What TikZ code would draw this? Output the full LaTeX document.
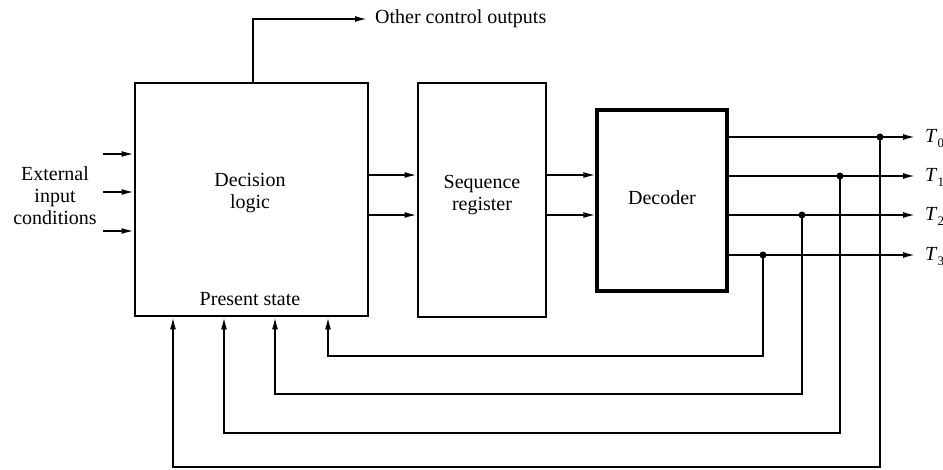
\documentclass[tikz,border=0pt]{standalone}
\usepackage{fontspec}
\setmainfont{Liberation Serif}
\usetikzlibrary{arrows.meta}
\begin{document}
\begin{tikzpicture}[x=1pt,y=-1pt,
  box/.style={draw,line width=2.8pt,inner sep=0pt},
  wire/.style={line width=1.6pt},
  arr/.style={wire,-{Latex[length=12pt,width=6pt]}},
  txt/.style={font=\fontsize{20}{22}\selectfont,align=center,inner sep=0pt},
  tlab/.style={font=\fontsize{20}{22}\selectfont,inner sep=0pt,anchor=base west},
  jdot/.style={circle,fill,inner sep=0pt,minimum size=7pt}]
\useasboundingbox (0,0) rectangle (943,470);
% boxes
\node[box,minimum width=233pt,minimum height=233pt] (dl) at (251.5,199.5) {};
\node[box,minimum width=128pt,minimum height=234pt] (sr) at (482,200) {};
\node[box,line width=3.2pt,minimum width=130pt,minimum height=181pt] (dec) at (662,200.5) {};
% texts
\node[txt] (dltxt) at (250,193) {Decision\\logic};
\node[txt] (srtxt) at (482,195) {Sequence\\register};
\node[txt] (dectxt) at (662,198) {Decoder};
\node[txt] (ps) at (250,299) {Present state};
\node[txt] (ext) at (55,196) {External\\input\\conditions};
\node[txt,anchor=west,inner xsep=8pt] (oct) at (367,19) {Other control outputs};
% external inputs
\coordinate (in1) at (103,154);
\coordinate (in2) at (103,192);
\coordinate (in3) at (103,231);
\foreach \i in {1,2,3} \draw[arr] (in\i) -- (in\i -| dl.west);
% other control outputs
\coordinate (oc) at (253,19);
\draw[arr] (oc |- dl.north) -- (oc) -- (oct.west);
% decision -> sequence register
\coordinate (a1) at (0,175);
\coordinate (a2) at (0,215);
\draw[arr] (dl.east |- a1) -- (sr.west |- a1);
\draw[arr] (dl.east |- a2) -- (sr.west |- a2);
\draw[arr] (sr.east |- a1) -- (dec.west |- a1);
\draw[arr] (sr.east |- a2) -- (dec.west |- a2);
% outputs
\coordinate (t0) at (915,137);
\coordinate (t1) at (915,176);
\coordinate (t2) at (915,215);
\coordinate (t3) at (915,255);
\foreach \i in {0,1,2,3} {
  \draw[arr] (dec.east |- t\i) -- (t\i);
  \node[tlab] (lab\i) at ([xshift=10pt,yshift=-6pt]t\i) {\textit{T}\raisebox{-5pt}{\fontsize{13}{13}\selectfont\i}};
}
% junction dots
\node[jdot] (d0) at (880,137) {};
\node[jdot] (d1) at (840,176) {};
\node[jdot] (d2) at (802,215) {};
\node[jdot] (d3) at (763,255) {};
% feedback
\coordinate (f3) at (328,356);
\coordinate (f2) at (275,394);
\coordinate (f1) at (224,433);
\coordinate (f0) at (173,467);
\foreach \i in {0,1,2,3} \draw[arr] (d\i.center) |- (f\i) -- (f\i |- dl.south);
\end{tikzpicture}
\end{document}
